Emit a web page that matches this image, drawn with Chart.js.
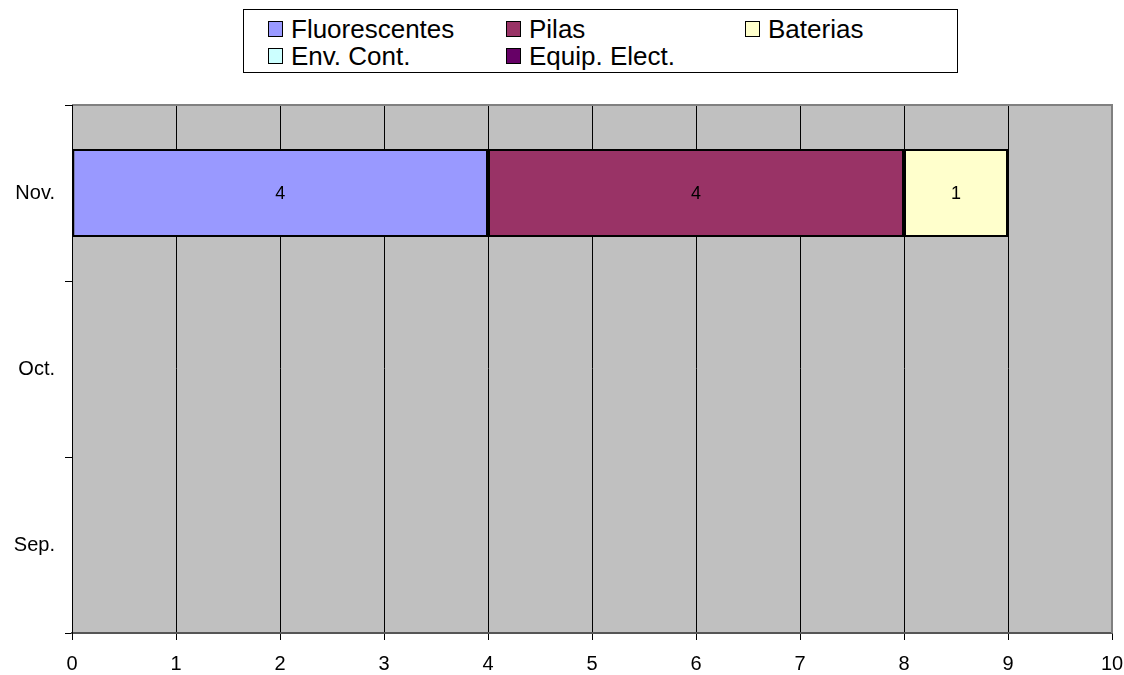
<!DOCTYPE html>
<html>
<head>
<meta charset="utf-8">
<script src="https://cdn.jsdelivr.net/npm/chart.js@4"></script>
<style>
  html, body { margin: 0; padding: 0; background: #fff; }
  #wrap { position: relative; width: 1124px; height: 675px; }
  #legend {
    position: absolute; left: 243px; top: 9px; width: 713px; height: 62px;
    border: 1px solid #000; background: #fff; box-sizing: content-box;
    font-family: "Liberation Sans", Arial, sans-serif; font-size: 26px; color: #000;
  }
  .item { position: absolute; display: flex; align-items: center; white-space: nowrap; height: 28px; line-height: 28px; }
  .sw { width: 13px; height: 14px; border: 1px solid #000; margin-right: 8px; flex: none; }
</style>
</head>
<body>
<div id="wrap">
  <canvas id="c" width="1124" height="675"></canvas>
  <div id="legend"></div>
</div>
<script>
const categories = ['Nov.', 'Oct.', 'Sep.'];
const seriesNames = ['Fluorescentes', 'Pilas', 'Baterias', 'Env. Cont.', 'Equip. Elect.'];
const fluorescentes = [4, null, null];
const pilas = [4, null, null];
const baterias = [1, null, null];
const envCont = [null, null, null];
const equipElect = [null, null, null];
const xTicks = [0, 1, 2, 3, 4, 5, 6, 7, 8, 9, 10];
const seriesColors = ['#9999FF', '#993366', '#FFFFCC', '#CCFFFF', '#660066'];

const seriesValues = [fluorescentes, pilas, baterias, envCont, equipElect];

// HTML legend (positions relative to legend box)
const legendPos = [[24, 5], [262, 5], [501, 5], [24, 32], [262, 32]];
const legendEl = document.getElementById('legend');
seriesNames.forEach((n, i) => {
  const d = document.createElement('div');
  d.className = 'item';
  d.style.left = legendPos[i][0] + 'px';
  d.style.top = legendPos[i][1] + 'px';
  d.innerHTML = '<span class="sw" style="background:' + seriesColors[i] + '"></span><span>' + n + '</span>';
  legendEl.appendChild(d);
});

const bgPlugin = {
  id: 'bg',
  beforeDraw(chart) {
    const a = chart.chartArea, ctx = chart.ctx;
    ctx.save();
    ctx.fillStyle = '#C0C0C0';
    ctx.fillRect(a.left, a.top, a.right - a.left, a.bottom - a.top);
    ctx.restore();
  },
  afterDraw(chart) {
    const a = chart.chartArea, ctx = chart.ctx;
    ctx.save();
    ctx.strokeStyle = '#808080';
    ctx.lineWidth = 2;
    ctx.beginPath();
    ctx.moveTo(a.left, a.top);
    ctx.lineTo(a.right, a.top);
    ctx.lineTo(a.right, a.bottom);
    ctx.stroke();
    ctx.strokeStyle = '#000';
    ctx.lineWidth = 1;
    ctx.beginPath();
    ctx.moveTo(a.left + 0.5, a.top);
    ctx.lineTo(a.left + 0.5, a.bottom);
    ctx.stroke();
    ctx.restore();
  }
};

const labelPlugin = {
  id: 'vals',
  afterDatasetsDraw(chart) {
    const ctx = chart.ctx;
    ctx.save();
    ctx.font = '18px "Liberation Sans", Arial, sans-serif';
    ctx.fillStyle = '#000';
    ctx.textAlign = 'center';
    ctx.textBaseline = 'middle';
    chart.data.datasets.forEach((ds, di) => {
      const meta = chart.getDatasetMeta(di);
      meta.data.forEach((bar, i) => {
        const v = ds.data[i];
        if (v === null || v === undefined || v === 0) return;
        const cx = (bar.x + bar.base) / 2;
        ctx.fillText(String(v), cx, bar.y + 1);
      });
    });
    ctx.restore();
  }
};

const axisFont = { family: '"Liberation Sans", Arial, sans-serif', size: 20 };

new Chart(document.getElementById('c'), {
  type: 'bar',
  data: {
    labels: categories,
    datasets: seriesNames.map((n, i) => ({
      label: n,
      data: seriesValues[i],
      backgroundColor: seriesColors[i],
      borderColor: '#000',
      borderWidth: 2,
      borderSkipped: false,
      categoryPercentage: 1.0,
      barPercentage: 0.5
    }))
  },
  options: {
    indexAxis: 'y',
    responsive: false,
    animation: false,
    layout: { padding: { top: 105, right: 12, left: 0, bottom: 0 } },
    plugins: { legend: { display: false }, tooltip: { enabled: false } },
    scales: {
      x: {
        stacked: true,
        min: 0, max: 10,
        afterBuildTicks(scale) { scale.ticks = xTicks.map(v => ({ value: v })); },
        afterFit(scale) { scale.height = 42; scale.paddingLeft = 0; scale.paddingRight = 0; },
        ticks: { color: '#000', font: axisFont, padding: 12, maxRotation: 0, autoSkip: false },
        grid: { color: '#000', lineWidth: 1, drawTicks: true, tickLength: 7, tickColor: '#000' },
        border: { display: true, color: '#555', width: 2 }
      },
      y: {
        stacked: true,
        afterFit(scale) { scale.width = 72; scale.paddingTop = 0; scale.paddingBottom = 0; },
        ticks: { color: '#000', font: axisFont, padding: 10 },
        grid: { offset: true, drawOnChartArea: false, drawTicks: true, tickLength: 7, color: '#000' },
        border: { display: true, color: '#000', width: 1 }
      }
    }
  },
  plugins: [bgPlugin, labelPlugin]
});
</script>
</body>
</html>
